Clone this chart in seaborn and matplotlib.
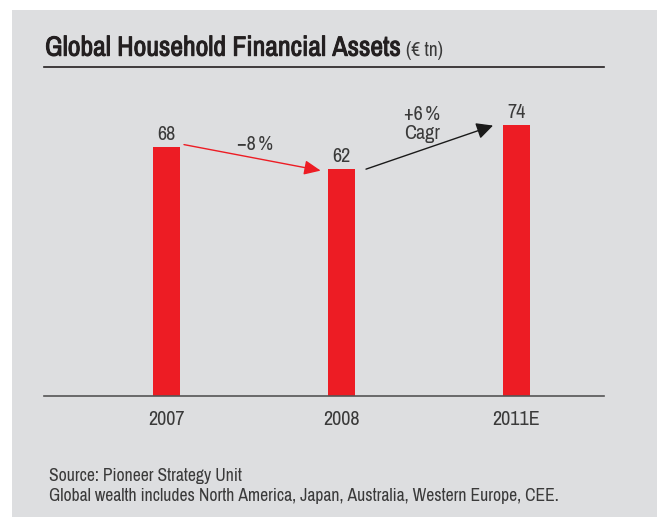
import matplotlib
matplotlib.use("Agg")
import matplotlib.pyplot as plt
import matplotlib.patches as mpatches
import matplotlib.patheffects as pe
from matplotlib import font_manager
import seaborn as sns

# data
years = ["2007", "2008", "2011E"]
assets = [68, 62, 74]
change_labels = ["\u22128\u2009%", "+6\u2009%\nCagr"]

RED = "#ed1c24"
BG = "#dddee0"
TXT = "#3a3a3a"
DARK = "#231f20"

# look for a narrow / condensed face
narrow = None
stretch = "normal"
for f in font_manager.fontManager.ttflist:
    n = f.name.lower()
    if "narrow" in n or "condensed" in n:
        narrow = f.name
        break
if narrow is None:
    for f in font_manager.fontManager.ttflist:
        if str(f.stretch) in ("condensed", "semi-condensed", "extra-condensed", "75", "87"):
            narrow = f.name
            stretch = "condensed"
            break
if narrow is not None:
    FONT = [narrow, "DejaVu Sans"]
    SC = 1.0
else:
    FONT = ["Liberation Sans", "DejaVu Sans"]
    SC = 0.85

sns.set_style("white")
plt.rcParams["font.family"] = FONT
plt.rcParams["font.stretch"] = stretch

LBL = 14.5 * SC

fig = plt.figure(figsize=(6.57, 5.18), dpi=100)
fig.patch.set_facecolor("white")
W, H = 657.0, 518.0
# grey panel
fig.patches.append(mpatches.Rectangle((12 / W, 1 / H), 1, (508.5 - 1) / H,
                                      transform=fig.transFigure, facecolor=BG,
                                      edgecolor="none", zorder=-5))

ax = fig.add_axes([44.5 / W, (H - 396.3) / H, (604 - 44.5) / W, (396.3 - 67.3) / H])
ax.set_facecolor("none")
ax.set_zorder(2)

sns.barplot(x=years, y=assets, color=RED, saturation=1, width=0.155, linewidth=0, ax=ax)

ax.set_xlim(-0.697, 2.5)
ax.set_ylim(0, 89.8)
ax.set_yticks([])
ax.set_xlabel("")
ax.set_ylabel("")
ax.tick_params(axis="x", length=0, pad=10, labelsize=LBL, labelcolor=TXT)
for sp in ["left", "right"]:
    ax.spines[sp].set_visible(False)
ax.spines["bottom"].set_color("#555555")
ax.spines["bottom"].set_linewidth(1.2)
ax.spines["top"].set_color(DARK)
ax.spines["top"].set_linewidth(1.2)

# value labels
for i, v in enumerate(assets):
    ax.text(i, v + 2.0, str(v), ha="center", va="baseline", fontsize=LBL, color=TXT)

# change arrows
ax.annotate("", xy=(0.881, assets[1] - 0.4), xytext=(0.10, assets[0] + 0.7),
            arrowprops=dict(arrowstyle="-|>,head_length=0.5,head_width=0.22",
                            color=RED, lw=1, mutation_scale=20,
                            shrinkA=0, shrinkB=0))
ax.annotate("", xy=(1.866, assets[2] - 0.1), xytext=(1.14, assets[1]),
            arrowprops=dict(arrowstyle="-|>,head_length=0.5,head_width=0.25",
                            color="#1a1a1a", lw=1, mutation_scale=20,
                            shrinkA=0, shrinkB=0))
ax.text(0.506, 67.2, change_labels[0], ha="center", va="baseline", fontsize=LBL, color=TXT)
ax.text(1.46, 70.1, change_labels[1], ha="center", va="baseline", fontsize=LBL,
        color=TXT, linespacing=1.0)

# title (stroke to thicken it a bit)
t = fig.text(45 / W, 1 - 55.7 / H, "Global Household Financial Assets",
             fontsize=20 * SC, fontweight="bold", color=DARK, va="baseline", ha="left",
             path_effects=[pe.withStroke(linewidth=0.7, foreground=DARK)])
fig.canvas.draw()
bb = t.get_window_extent()
fig.text(bb.x1 / W + 5 / W, 1 - 55.7 / H, "(\u20ac tn)", fontsize=14 * SC, color=TXT,
         va="baseline", ha="left")

# footer
fig.text(49 / W, 1 - 481 / H, "Source: Pioneer Strategy Unit", fontsize=12.7 * SC,
         color=TXT, va="baseline")
fig.text(49 / W, 1 - 501.5 / H,
         "Global wealth includes North America, Japan, Australia, Western Europe, CEE.",
         fontsize=12.7 * SC, color=TXT, va="baseline")

fig.savefig("out.png", dpi=100, facecolor="white")
